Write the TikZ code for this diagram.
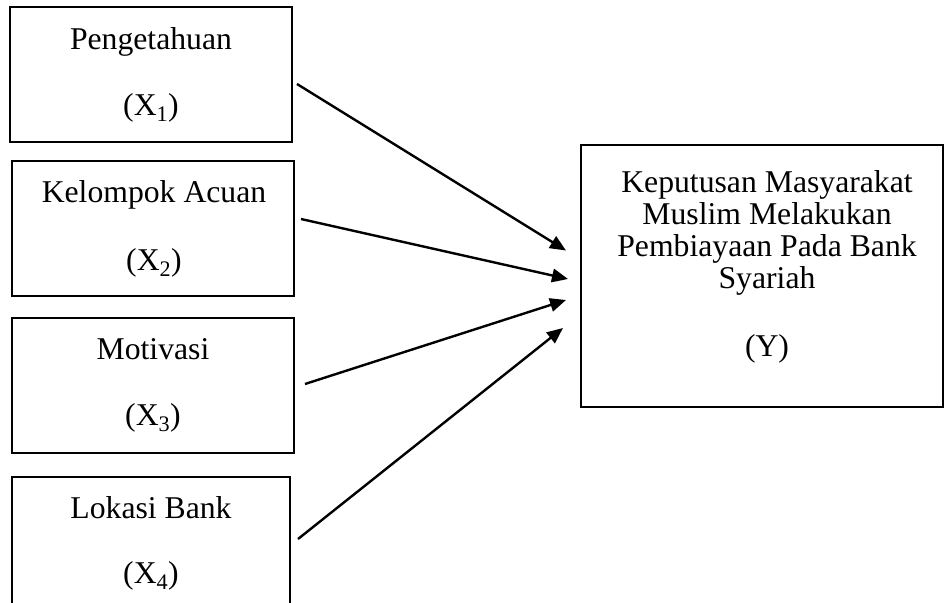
\documentclass[tikz,border=0pt]{standalone}
\usepackage{fontspec}
\setmainfont{Liberation Serif}
\usetikzlibrary{arrows.meta}
\begin{document}
\begin{tikzpicture}[x=1pt,y=-1pt,
  box/.style={draw=black,line width=2pt},
  lbl/.style={anchor=base,inner sep=0pt,font=\fontsize{31.7}{31.7}\selectfont},
  conn/.style={line width=2.4pt,-{Triangle[length=16pt,width=13.5pt]}}]
\path[use as bounding box,clip] (0,0) rectangle (944,602);
% boxes
\node[box,inner sep=0pt,minimum width=282pt,minimum height=135pt] (x1) at (151,74.5) {};
\node[box,inner sep=0pt,minimum width=282pt,minimum height=135pt] (x2) at (153,228.5) {};
\node[box,inner sep=0pt,minimum width=282pt,minimum height=135pt] (x3) at (153,385.5) {};
\node[box,inner sep=0pt,minimum width=278pt,minimum height=150pt] (x4) at (151,552) {};
\node[box,inner sep=0pt,minimum width=362pt,minimum height=262pt] (y) at (761.5,276) {};
% texts
\node[lbl] (t1a) at (151,49) {Pengetahuan};
\node[lbl] (t1b) at (151,115) {(X\textsubscript{1})};
\node[lbl] (t2a) at (154,202) {Kelompok Acuan};
\node[lbl] (t2b) at (154,270) {(X\textsubscript{2})};
\node[lbl] (t3a) at (153,359) {Motivasi};
\node[lbl] (t3b) at (153,425) {(X\textsubscript{3})};
\node[lbl] (t4a) at (151,518) {Lokasi Bank};
\node[lbl] (t4b) at (151,583) {(X\textsubscript{4})};
\node[lbl] (ya) at (767,192.7) {Keputusan Masyarakat};
\node[lbl] (yb) at (767,224) {Muslim Melakukan};
\node[lbl] (yc) at (767,256.7) {Pembiayaan Pada Bank};
\node[lbl] (yd) at (767,288) {Syariah};
\node[lbl] (ye) at (767,356.7) {(Y)};
% connector ends
\coordinate (s1) at (297,84);
\coordinate (s2) at (301,219);
\coordinate (s3) at (305,384);
\coordinate (s4) at (298,539);
\coordinate (e1) at (566,250.5);
\coordinate (e2) at (568,279);
\coordinate (e3) at (566,300);
\coordinate (e4) at (563,328);
\draw[conn] (s1) -- (e1);
\draw[conn] (s2) -- (e2);
\draw[conn] (s3) -- (e3);
\draw[conn] (s4) -- (e4);
\end{tikzpicture}
\end{document}
